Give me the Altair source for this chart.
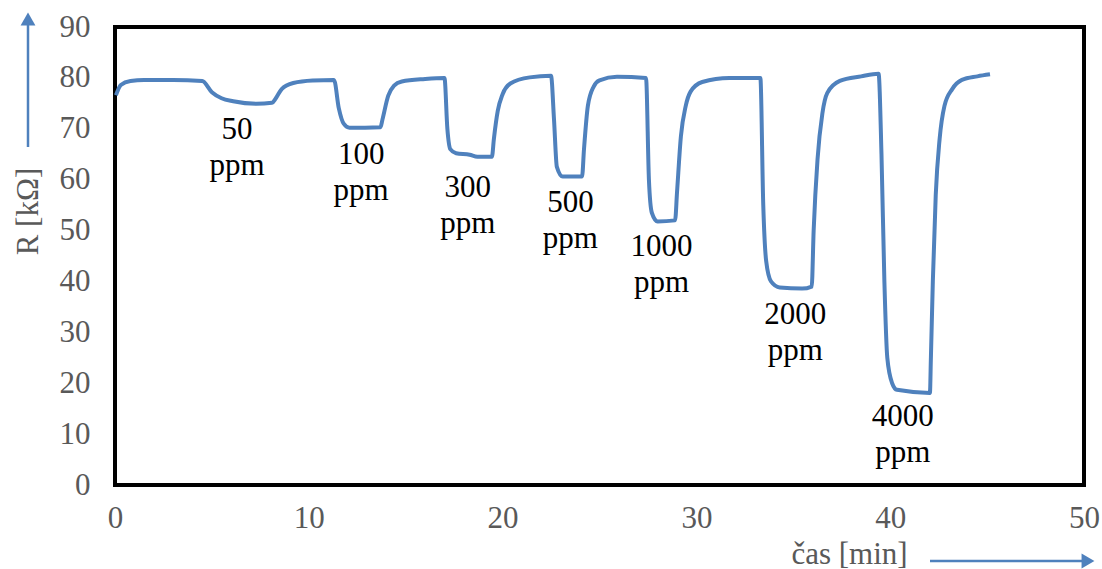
import altair as alt
import pandas as pd

# Resistance response curve (time in minutes, R in kOhm)
time_min = [0.05, 0.3, 0.8, 1.5, 3.0, 4.5, 5.0, 5.5, 6.1, 7.3, 8.1, 8.3, 8.6, 9.2, 10.2, 11.3,
            11.55, 11.8, 12.1, 13.7, 13.8, 14.1, 14.4, 14.8, 16.0, 17.0,
            17.15, 17.3, 17.6, 18.3, 18.7, 19.45, 19.55, 19.75, 20.0, 20.4, 21.4, 22.5,
            22.65, 22.8, 23.1, 24.1, 24.2, 24.4, 24.7, 25.0, 25.9, 27.4,
            27.55, 27.7, 28.0, 28.9, 29.0, 29.2, 29.45, 29.7, 30.3, 31.7, 33.3,
            33.45, 33.6, 33.85, 34.3, 35.45, 35.95, 36.05, 36.25, 36.5, 36.75, 37.4, 38.5, 39.4,
            39.55, 39.7, 39.85, 40.1, 40.35, 42.05, 42.1, 42.2, 42.35, 42.55, 42.8, 43.2, 43.7, 44.5, 45.15]
resistance = [76.6, 78.6, 79.4, 79.6, 79.6, 79.4, 77.2, 76.0, 75.4, 74.9, 75.1, 76.0, 77.8, 79.0, 79.5, 79.6,
              74.0, 71.0, 70.2, 70.3, 71.8, 76.5, 78.5, 79.3, 79.8, 80.0,
              70.0, 66.0, 65.2, 64.9, 64.5, 64.5, 68.0, 73.5, 76.8, 78.9, 80.1, 80.4,
              72.0, 62.5, 60.6, 60.6, 66.0, 74.5, 78.3, 79.5, 80.2, 80.0,
              60.0, 53.5, 51.8, 52.0, 57.5, 68.5, 74.5, 77.3, 79.2, 80.0, 80.0,
              55.0, 44.0, 40.0, 38.8, 38.6, 39.0, 50.0, 64.0, 73.0, 77.0, 79.4, 80.3, 80.8,
              65.0, 40.0, 25.0, 20.0, 18.7, 18.1, 25.0, 40.0, 57.0, 68.0, 74.5, 77.8, 79.6, 80.3, 80.7]

# Concentration annotations (anchor of first line, in data units)
label_text = ["50\nppm", "100\nppm", "300\nppm", "500\nppm", "1000\nppm", "2000\nppm", "4000\nppm"]
label_t = [6.3, 12.7, 18.2, 23.5, 28.2, 35.1, 40.65]
label_r = [69.8, 64.8, 58.4, 55.4, 46.8, 33.4, 13.4]

x_ticks = [0, 10, 20, 30, 40, 50]
y_ticks = [0, 10, 20, 30, 40, 50, 60, 70, 80, 90]

BLUE = "#4F81BD"
GRAY = "#595959"
FONT = "Liberation Serif"
FS = 31

curve = pd.DataFrame({"t": time_min, "R": resistance})
labels = pd.DataFrame({"t": label_t, "R": label_r, "txt": label_text})
one = pd.DataFrame({"a": [0]})

xscale = alt.Scale(domain=[0, 50], nice=False)
yscale = alt.Scale(domain=[0, 90], nice=False)

line = alt.Chart(curve).mark_line(color=BLUE, strokeWidth=4, interpolate="monotone").encode(
    x=alt.X("t:Q", scale=xscale, axis=alt.Axis(
        values=x_ticks, title="čas [min]", titleX=734, titleY=78, titleBaseline="alphabetic",
        titleAlign="center", labelPadding=18, labelFlush=False)),
    y=alt.Y("R:Q", scale=yscale, axis=alt.Axis(
        values=y_ticks, title="R [kΩ]", titleX=-87, titleY=184, titleBaseline="middle",
        titleAlign="center", titleAngle=270, labelPadding=25, labelFlush=False)),
)

text = alt.Chart(labels).mark_text(
    font=FONT, fontSize=FS, color="black", align="center", baseline="middle",
    lineBreak="\n", lineHeight=36
).encode(x=alt.X("t:Q", scale=xscale), y=alt.Y("R:Q", scale=yscale), text="txt:N")

y_arrow = alt.Chart(one).mark_rule(color=BLUE, strokeWidth=2.5).encode(
    x=alt.value(-87), y=alt.value(120), y2=alt.value(-2))
y_head = alt.Chart(one).mark_point(shape="triangle-up", filled=True, size=220, color=BLUE, opacity=1).encode(
    x=alt.value(-87), y=alt.value(-8))
x_arrow = alt.Chart(one).mark_rule(color=BLUE, strokeWidth=2.5).encode(
    x=alt.value(815), x2=alt.value(967), y=alt.value(534))
x_head = alt.Chart(one).mark_point(shape="triangle-right", filled=True, size=220, color=BLUE, opacity=1).encode(
    x=alt.value(973), y=alt.value(534))

chart = alt.layer(line, text, y_arrow, y_head, x_arrow, x_head).properties(
    width=969, height=458,
    padding={"left": 115, "top": 27, "right": 18, "bottom": 84},
    autosize=alt.AutoSizeParams(type="none"),
    background="white",
).configure_view(
    stroke="black", strokeWidth=4
).configure_axis(
    grid=False, domain=False, ticks=False,
    labelFont=FONT, labelFontSize=FS, labelColor=GRAY,
    titleFont=FONT, titleFontSize=FS, titleColor=GRAY, titleFontWeight="normal",
).configure_text(font=FONT)

chart.save("out.html", embed_options={"renderer": "svg", "actions": False})
